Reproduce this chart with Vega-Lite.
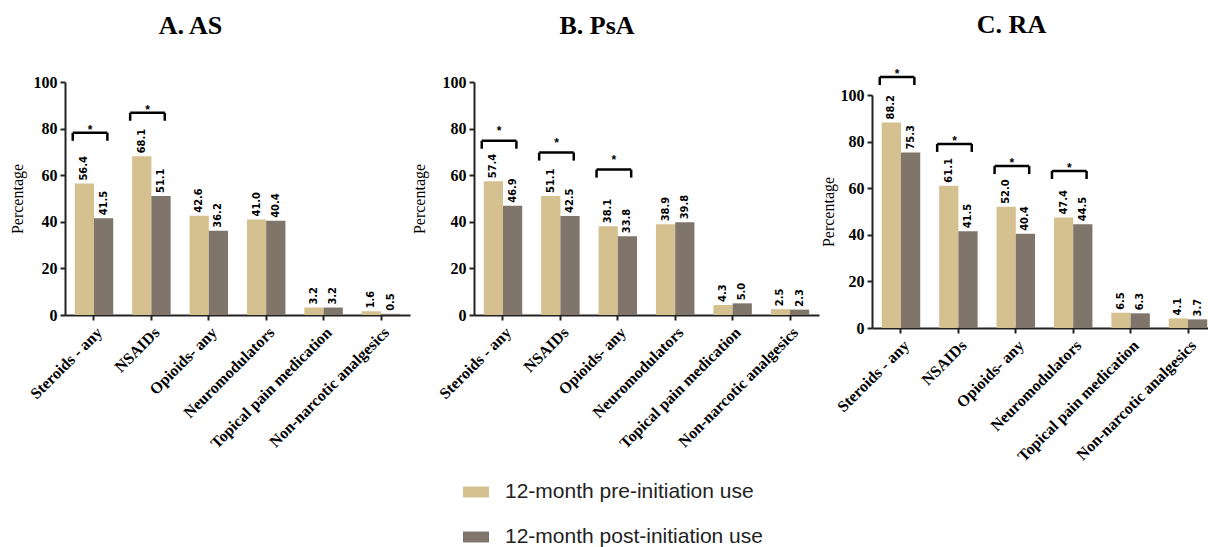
{
  "$schema": "https://vega.github.io/schema/vega-lite/v6.json",
  "background": "white",
  "padding": {"left": 9, "top": 12, "right": 0, "bottom": 0},
  "spacing": 1,
  "datasets": {
    "bars": [
      {"panel": "A", "category": "Steroids - any", "period": "12-month pre-initiation use", "value": 56.4},
      {"panel": "A", "category": "Steroids - any", "period": "12-month post-initiation use", "value": 41.5},
      {"panel": "A", "category": "NSAIDs", "period": "12-month pre-initiation use", "value": 68.1},
      {"panel": "A", "category": "NSAIDs", "period": "12-month post-initiation use", "value": 51.1},
      {"panel": "A", "category": "Opioids- any", "period": "12-month pre-initiation use", "value": 42.6},
      {"panel": "A", "category": "Opioids- any", "period": "12-month post-initiation use", "value": 36.2},
      {"panel": "A", "category": "Neuromodulators", "period": "12-month pre-initiation use", "value": 41.0},
      {"panel": "A", "category": "Neuromodulators", "period": "12-month post-initiation use", "value": 40.4},
      {"panel": "A", "category": "Topical pain medication", "period": "12-month pre-initiation use", "value": 3.2},
      {"panel": "A", "category": "Topical pain medication", "period": "12-month post-initiation use", "value": 3.2},
      {"panel": "A", "category": "Non-narcotic analgesics", "period": "12-month pre-initiation use", "value": 1.6},
      {"panel": "A", "category": "Non-narcotic analgesics", "period": "12-month post-initiation use", "value": 0.5},
      {"panel": "B", "category": "Steroids - any", "period": "12-month pre-initiation use", "value": 57.4},
      {"panel": "B", "category": "Steroids - any", "period": "12-month post-initiation use", "value": 46.9},
      {"panel": "B", "category": "NSAIDs", "period": "12-month pre-initiation use", "value": 51.1},
      {"panel": "B", "category": "NSAIDs", "period": "12-month post-initiation use", "value": 42.5},
      {"panel": "B", "category": "Opioids- any", "period": "12-month pre-initiation use", "value": 38.1},
      {"panel": "B", "category": "Opioids- any", "period": "12-month post-initiation use", "value": 33.8},
      {"panel": "B", "category": "Neuromodulators", "period": "12-month pre-initiation use", "value": 38.9},
      {"panel": "B", "category": "Neuromodulators", "period": "12-month post-initiation use", "value": 39.8},
      {"panel": "B", "category": "Topical pain medication", "period": "12-month pre-initiation use", "value": 4.3},
      {"panel": "B", "category": "Topical pain medication", "period": "12-month post-initiation use", "value": 5.0},
      {"panel": "B", "category": "Non-narcotic analgesics", "period": "12-month pre-initiation use", "value": 2.5},
      {"panel": "B", "category": "Non-narcotic analgesics", "period": "12-month post-initiation use", "value": 2.3},
      {"panel": "C", "category": "Steroids - any", "period": "12-month pre-initiation use", "value": 88.2},
      {"panel": "C", "category": "Steroids - any", "period": "12-month post-initiation use", "value": 75.3},
      {"panel": "C", "category": "NSAIDs", "period": "12-month pre-initiation use", "value": 61.1},
      {"panel": "C", "category": "NSAIDs", "period": "12-month post-initiation use", "value": 41.5},
      {"panel": "C", "category": "Opioids- any", "period": "12-month pre-initiation use", "value": 52.0},
      {"panel": "C", "category": "Opioids- any", "period": "12-month post-initiation use", "value": 40.4},
      {"panel": "C", "category": "Neuromodulators", "period": "12-month pre-initiation use", "value": 47.4},
      {"panel": "C", "category": "Neuromodulators", "period": "12-month post-initiation use", "value": 44.5},
      {"panel": "C", "category": "Topical pain medication", "period": "12-month pre-initiation use", "value": 6.5},
      {"panel": "C", "category": "Topical pain medication", "period": "12-month post-initiation use", "value": 6.3},
      {"panel": "C", "category": "Non-narcotic analgesics", "period": "12-month pre-initiation use", "value": 4.1},
      {"panel": "C", "category": "Non-narcotic analgesics", "period": "12-month post-initiation use", "value": 3.7}
    ],
    "brackets": [
      {"panel": "A", "category": "Steroids - any", "level": 78.2, "sig": "*"},
      {"panel": "A", "category": "NSAIDs", "level": 86.8, "sig": "*"},
      {"panel": "B", "category": "Steroids - any", "level": 74.8, "sig": "*"},
      {"panel": "B", "category": "NSAIDs", "level": 69.7, "sig": "*"},
      {"panel": "B", "category": "Opioids- any", "level": 62.4, "sig": "*"},
      {"panel": "C", "category": "Steroids - any", "level": 107.7, "sig": "*"},
      {"panel": "C", "category": "NSAIDs", "level": 79.0, "sig": "*"},
      {"panel": "C", "category": "Opioids- any", "level": 69.5, "sig": "*"},
      {"panel": "C", "category": "Neuromodulators", "level": 67.4, "sig": "*"}
    ]
  },
  "hconcat": [
    {
      "width": 345, "height": 233,
      "title": {"text": "A. AS", "dx": -19, "offset": 35},
      "layer": [
        {
          "data": {"name": "bars"},
          "transform": [{"filter": "datum.panel === 'A'"}],
          "mark": {"type": "bar"},
          "encoding": {
            "x": {"field": "category", "type": "nominal", "title": null, "scale": {"domain": ["Steroids - any", "NSAIDs", "Opioids- any", "Neuromodulators", "Topical pain medication", "Non-narcotic analgesics"], "paddingInner": 0.33, "paddingOuter": 0.17}},
            "xOffset": {"field": "period", "type": "nominal", "scale": {"domain": ["12-month pre-initiation use", "12-month post-initiation use"]}},
            "y": {"field": "value", "type": "quantitative", "title": "Percentage", "scale": {"domain": [0, 100]}, "axis": {"values": [0, 20, 40, 60, 80, 100], "titlePadding": 8}},
            "color": {"field": "period", "type": "nominal", "scale": {"domain": ["12-month pre-initiation use", "12-month post-initiation use"], "range": ["#D5C08F", "#7F756A"]}, "legend": {"title": null}}
          }
        },
        {
          "data": {"name": "bars"},
          "transform": [{"filter": "datum.panel === 'A'"}],
          "mark": {"type": "text", "angle": 270, "align": "left", "baseline": "middle", "dx": 3, "font": "Liberation Sans Narrow, DejaVu Sans Condensed, Liberation Sans", "fontWeight": "bold", "fontSize": 11, "color": "black"},
          "encoding": {
            "x": {"field": "category", "type": "nominal"},
            "xOffset": {"field": "period", "type": "nominal"},
            "y": {"field": "value", "type": "quantitative"},
            "text": {"field": "value", "type": "quantitative", "format": ".1f"}
          }
        },
        {
          "data": {"name": "brackets"},
          "transform": [{"filter": "datum.panel === 'A'"}],
          "mark": {"type": "rule", "strokeWidth": 2.5, "color": "black", "xOffset": -2, "x2Offset": -2},
          "encoding": {
            "x": {"field": "category", "type": "nominal", "bandPosition": 0},
            "x2": {"field": "category", "bandPosition": 0.9},
            "y": {"field": "level", "type": "quantitative"}
          }
        },
        {
          "data": {"name": "brackets"},
          "transform": [{"filter": "datum.panel === 'A'"}],
          "mark": {"type": "rule", "strokeWidth": 2.5, "color": "black", "xOffset": -2, "y2Offset": 8},
          "encoding": {
            "x": {"field": "category", "type": "nominal", "bandPosition": 0},
            "y": {"field": "level", "type": "quantitative"},
            "y2": {"field": "level"}
          }
        },
        {
          "data": {"name": "brackets"},
          "transform": [{"filter": "datum.panel === 'A'"}],
          "mark": {"type": "rule", "strokeWidth": 2.5, "color": "black", "xOffset": -2, "y2Offset": 8},
          "encoding": {
            "x": {"field": "category", "type": "nominal", "bandPosition": 0.9},
            "y": {"field": "level", "type": "quantitative"},
            "y2": {"field": "level"}
          }
        },
        {
          "data": {"name": "brackets"},
          "transform": [{"filter": "datum.panel === 'A'"}],
          "mark": {"type": "text", "dy": -3, "xOffset": -2, "fontSize": 12, "fontWeight": "bold", "font": "Liberation Sans", "color": "black"},
          "encoding": {
            "x": {"field": "category", "type": "nominal", "bandPosition": 0.45},
            "y": {"field": "level", "type": "quantitative"},
            "text": {"field": "sig"}
          }
        }
      ]
    },
    {
      "width": 345, "height": 233,
      "title": {"text": "B. PsA", "dx": -18, "offset": 35},
      "layer": [
        {
          "data": {"name": "bars"},
          "transform": [{"filter": "datum.panel === 'B'"}],
          "mark": {"type": "bar"},
          "encoding": {
            "x": {"field": "category", "type": "nominal", "title": null, "scale": {"domain": ["Steroids - any", "NSAIDs", "Opioids- any", "Neuromodulators", "Topical pain medication", "Non-narcotic analgesics"], "paddingInner": 0.33, "paddingOuter": 0.17}},
            "xOffset": {"field": "period", "type": "nominal", "scale": {"domain": ["12-month pre-initiation use", "12-month post-initiation use"]}},
            "y": {"field": "value", "type": "quantitative", "title": "Percentage", "scale": {"domain": [0, 100]}, "axis": {"values": [0, 20, 40, 60, 80, 100], "titlePadding": 15}},
            "color": {"field": "period", "type": "nominal", "scale": {"domain": ["12-month pre-initiation use", "12-month post-initiation use"], "range": ["#D5C08F", "#7F756A"]}, "legend": {"title": null}}
          }
        },
        {
          "data": {"name": "bars"},
          "transform": [{"filter": "datum.panel === 'B'"}],
          "mark": {"type": "text", "angle": 270, "align": "left", "baseline": "middle", "dx": 3, "font": "Liberation Sans Narrow, DejaVu Sans Condensed, Liberation Sans", "fontWeight": "bold", "fontSize": 11, "color": "black"},
          "encoding": {
            "x": {"field": "category", "type": "nominal"},
            "xOffset": {"field": "period", "type": "nominal"},
            "y": {"field": "value", "type": "quantitative"},
            "text": {"field": "value", "type": "quantitative", "format": ".1f"}
          }
        },
        {
          "data": {"name": "brackets"},
          "transform": [{"filter": "datum.panel === 'B'"}],
          "mark": {"type": "rule", "strokeWidth": 2.5, "color": "black", "xOffset": -2, "x2Offset": -2},
          "encoding": {
            "x": {"field": "category", "type": "nominal", "bandPosition": 0},
            "x2": {"field": "category", "bandPosition": 0.9},
            "y": {"field": "level", "type": "quantitative"}
          }
        },
        {
          "data": {"name": "brackets"},
          "transform": [{"filter": "datum.panel === 'B'"}],
          "mark": {"type": "rule", "strokeWidth": 2.5, "color": "black", "xOffset": -2, "y2Offset": 8},
          "encoding": {
            "x": {"field": "category", "type": "nominal", "bandPosition": 0},
            "y": {"field": "level", "type": "quantitative"},
            "y2": {"field": "level"}
          }
        },
        {
          "data": {"name": "brackets"},
          "transform": [{"filter": "datum.panel === 'B'"}],
          "mark": {"type": "rule", "strokeWidth": 2.5, "color": "black", "xOffset": -2, "y2Offset": 8},
          "encoding": {
            "x": {"field": "category", "type": "nominal", "bandPosition": 0.9},
            "y": {"field": "level", "type": "quantitative"},
            "y2": {"field": "level"}
          }
        },
        {
          "data": {"name": "brackets"},
          "transform": [{"filter": "datum.panel === 'B'"}],
          "mark": {"type": "text", "dy": -10, "xOffset": -2, "fontSize": 12, "fontWeight": "bold", "font": "Liberation Sans", "color": "black"},
          "encoding": {
            "x": {"field": "category", "type": "nominal", "bandPosition": 0.45},
            "y": {"field": "level", "type": "quantitative"},
            "text": {"field": "sig"}
          }
        }
      ]
    },
    {
      "width": 345, "height": 246,
      "title": {"text": "C. RA", "dx": -7, "offset": 30},
      "layer": [
        {
          "data": {"name": "bars"},
          "transform": [{"filter": "datum.panel === 'C'"}],
          "mark": {"type": "bar"},
          "encoding": {
            "x": {"field": "category", "type": "nominal", "title": null, "scale": {"domain": ["Steroids - any", "NSAIDs", "Opioids- any", "Neuromodulators", "Topical pain medication", "Non-narcotic analgesics"], "paddingInner": 0.33, "paddingOuter": 0.17}},
            "xOffset": {"field": "period", "type": "nominal", "scale": {"domain": ["12-month pre-initiation use", "12-month post-initiation use"]}},
            "y": {"field": "value", "type": "quantitative", "title": "Percentage", "scale": {"domain": [0, 100], "range": [246, 13]}, "axis": {"values": [0, 20, 40, 60, 80, 100], "titlePadding": 4}},
            "color": {"field": "period", "type": "nominal", "scale": {"domain": ["12-month pre-initiation use", "12-month post-initiation use"], "range": ["#D5C08F", "#7F756A"]}, "legend": {"title": null}}
          }
        },
        {
          "data": {"name": "bars"},
          "transform": [{"filter": "datum.panel === 'C'"}],
          "mark": {"type": "text", "angle": 270, "align": "left", "baseline": "middle", "dx": 3, "font": "Liberation Sans Narrow, DejaVu Sans Condensed, Liberation Sans", "fontWeight": "bold", "fontSize": 11, "color": "black"},
          "encoding": {
            "x": {"field": "category", "type": "nominal"},
            "xOffset": {"field": "period", "type": "nominal"},
            "y": {"field": "value", "type": "quantitative"},
            "text": {"field": "value", "type": "quantitative", "format": ".1f"}
          }
        },
        {
          "data": {"name": "brackets"},
          "transform": [{"filter": "datum.panel === 'C'"}],
          "mark": {"type": "rule", "strokeWidth": 2.5, "color": "black", "xOffset": -2, "x2Offset": -2},
          "encoding": {
            "x": {"field": "category", "type": "nominal", "bandPosition": 0},
            "x2": {"field": "category", "bandPosition": 0.9},
            "y": {"field": "level", "type": "quantitative"}
          }
        },
        {
          "data": {"name": "brackets"},
          "transform": [{"filter": "datum.panel === 'C'"}],
          "mark": {"type": "rule", "strokeWidth": 2.5, "color": "black", "xOffset": -2, "y2Offset": 8},
          "encoding": {
            "x": {"field": "category", "type": "nominal", "bandPosition": 0},
            "y": {"field": "level", "type": "quantitative"},
            "y2": {"field": "level"}
          }
        },
        {
          "data": {"name": "brackets"},
          "transform": [{"filter": "datum.panel === 'C'"}],
          "mark": {"type": "rule", "strokeWidth": 2.5, "color": "black", "xOffset": -2, "y2Offset": 8},
          "encoding": {
            "x": {"field": "category", "type": "nominal", "bandPosition": 0.9},
            "y": {"field": "level", "type": "quantitative"},
            "y2": {"field": "level"}
          }
        },
        {
          "data": {"name": "brackets"},
          "transform": [{"filter": "datum.panel === 'C'"}],
          "mark": {"type": "text", "dy": -3, "xOffset": -2, "fontSize": 12, "fontWeight": "bold", "font": "Liberation Sans", "color": "black"},
          "encoding": {
            "x": {"field": "category", "type": "nominal", "bandPosition": 0.45},
            "y": {"field": "level", "type": "quantitative"},
            "text": {"field": "sig"}
          }
        }
      ]
    }
  ],
  "config": {
    "view": {"stroke": null},
    "font": "Liberation Serif",
    "title": {"font": "Liberation Serif", "fontSize": 26, "fontWeight": "bold", "color": "black", "anchor": "middle", "frame": "bounds"},
    "axis": {
      "domainColor": "#222222", "domainWidth": 2, "tickColor": "#222222", "tickWidth": 2, "tickSize": 5,
      "labelFont": "Liberation Serif", "labelFontWeight": "bold", "labelColor": "black",
      "titleFont": "Liberation Serif", "titleFontWeight": "normal", "titleColor": "black", "titleFontSize": 16,
      "grid": false
    },
    "axisX": {"labelAngle": -45, "labelFontSize": 16, "labelPadding": 4, "labelLimit": 0},
    "axisY": {"labelFontSize": 16, "labelPadding": 3},
    "legend": {
      "orient": "bottom", "direction": "vertical",
      "symbolType": "M-1,-0.42H1V0.42H-1Z", "symbolSize": 676, "symbolStrokeWidth": 0, "symbolOpacity": 1,
      "labelFont": "Liberation Sans", "labelFontSize": 21, "labelColor": "#222222", "labelOffset": 16, "labelLimit": 0,
      "rowPadding": 22, "offset": 14,
      "layout": {"bottom": {"anchor": "middle"}}
    }
  }
}
